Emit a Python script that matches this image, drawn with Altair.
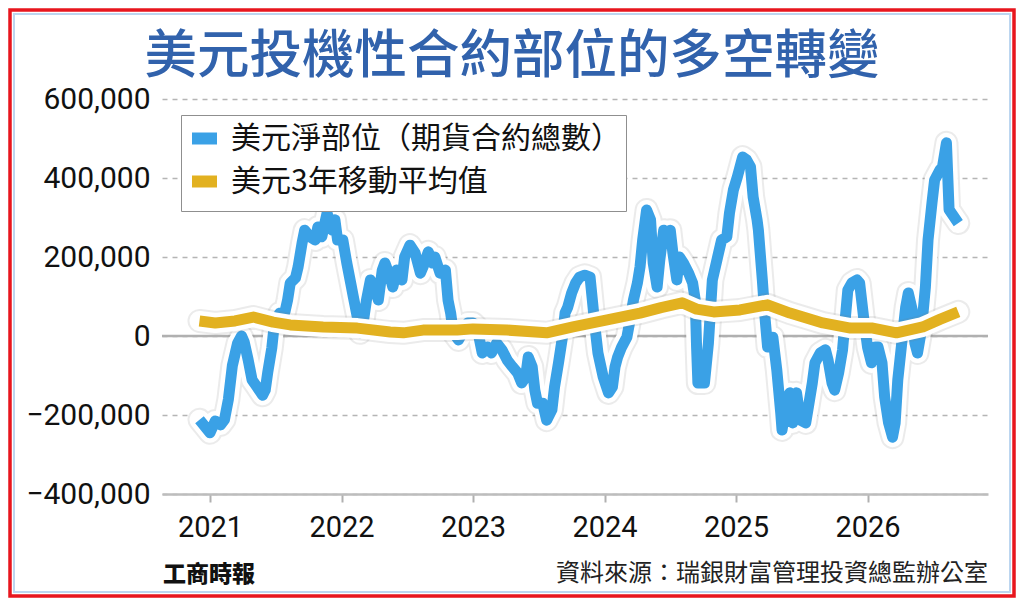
import altair as alt
import pandas as pd

# ---------------- data ----------------
TITLE = "美元投機性合約部位的多空轉變"
SERIES = ["美元淨部位（期貨合約總數）", "美元3年移動平均值"]
YEAR_TICKS = [2021, 2022, 2023, 2024, 2025, 2026]
Y_TICKS = [-400000, -200000, 0, 200000, 400000, 600000]
SOURCE = "資料來源：瑞銀財富管理投資總監辦公室"
BRAND = "工商時報"

net_year = [
    2020.92, 2021.00, 2021.04, 2021.08, 2021.11, 2021.14, 2021.17, 2021.21, 2021.24, 2021.26,
    2021.29, 2021.32, 2021.36, 2021.40, 2021.42, 2021.44, 2021.47, 2021.49, 2021.53, 2021.57,
    2021.59, 2021.61, 2021.65, 2021.67, 2021.70, 2021.72, 2021.76, 2021.80, 2021.82, 2021.85,
    2021.89, 2021.93, 2021.95, 2021.97, 2022.01, 2022.04, 2022.07, 2022.09, 2022.12, 2022.14,
    2022.16, 2022.19, 2022.22, 2022.26, 2022.28, 2022.31, 2022.33, 2022.37, 2022.39, 2022.42,
    2022.46, 2022.48, 2022.52, 2022.56, 2022.60, 2022.62, 2022.66, 2022.69, 2022.71, 2022.75,
    2022.79, 2022.81, 2022.83, 2022.85, 2022.89, 2022.92, 2022.96, 2023.00, 2023.03, 2023.07,
    2023.11, 2023.14, 2023.18, 2023.22, 2023.26, 2023.30, 2023.34, 2023.37, 2023.40, 2023.42,
    2023.45, 2023.47, 2023.49, 2023.53, 2023.56, 2023.60, 2023.62, 2023.65, 2023.68, 2023.70,
    2023.72, 2023.75, 2023.78, 2023.81, 2023.85, 2023.89, 2023.905, 2023.93, 2023.95, 2023.99,
    2024.03, 2024.06, 2024.08, 2024.10, 2024.13, 2024.17, 2024.19, 2024.22, 2024.25, 2024.27,
    2024.29, 2024.32, 2024.35, 2024.37, 2024.40, 2024.42, 2024.45, 2024.48, 2024.50, 2024.52,
    2024.55, 2024.57, 2024.60, 2024.64, 2024.67, 2024.69, 2024.70, 2024.71, 2024.76, 2024.79,
    2024.82, 2024.86, 2024.89, 2024.93, 2024.95, 2024.98, 2025.01, 2025.05, 2025.08, 2025.11,
    2025.13, 2025.16, 2025.17, 2025.20, 2025.22, 2025.24, 2025.28, 2025.31, 2025.34, 2025.35,
    2025.39, 2025.41, 2025.43, 2025.46, 2025.49, 2025.53, 2025.55, 2025.58, 2025.60, 2025.64,
    2025.68, 2025.70, 2025.73, 2025.75, 2025.78, 2025.81, 2025.83, 2025.85, 2025.88, 2025.92,
    2025.94, 2025.97, 2026.00, 2026.03, 2026.06, 2026.08, 2026.11, 2026.13, 2026.16, 2026.19,
    2026.21, 2026.23, 2026.26, 2026.29, 2026.31, 2026.34, 2026.36, 2026.38, 2026.41, 2026.44,
    2026.46, 2026.49, 2026.51, 2026.55, 2026.57, 2026.60, 2026.62, 2026.69,
]
net_value = [
    -212000, -245000, -215000, -225000, -212000, -160000, -75000, -18000, 0, -15000,
    -60000, -111000, -130000, -150000, -137000, -90000, -30000, 33000, 58000, 61000,
    91000, 134000, 147000, 175000, 235000, 268000, 251000, 243000, 276000, 251000,
    311000, 268000, 294000, 243000, 243000, 185000, 134000, 99000, 48000, 8000,
    23000, 91000, 142000, 116000, 91000, 167000, 185000, 149000, 124000, 167000,
    142000, 200000, 230000, 210000, 159000, 175000, 213000, 185000, 200000, 159000,
    167000, 91000, 58000, 8000, -10000, 8000, 33000, 33000, 23000, -43000,
    -28000, -43000, -18000, -35000, -61000, -78000, -94000, -119000, -104000, -53000,
    -78000, -137000, -170000, -170000, -213000, -187000, -129000, -68000, -3000, 58000,
    73000, 109000, 134000, 149000, 154000, 149000, 99000, 15000, -43000, -104000,
    -144000, -129000, -78000, -53000, -28000, -3000, 33000, 91000, 134000, 175000,
    243000, 319000, 294000, 185000, 124000, 192000, 268000, 261000, 268000, 210000,
    142000, 200000, 185000, 159000, 134000, 91000, -28000, -119000, -119000, -18000,
    142000, 200000, 243000, 251000, 311000, 370000, 403000, 453000, 446000, 428000,
    352000, 294000, 268000, 142000, 48000, -28000, -3000, -86000, -195000, -238000,
    -154000, -144000, -220000, -144000, -213000, -220000, -180000, -119000, -68000, -43000,
    -35000, -61000, -119000, -137000, -94000, -35000, 41000, 116000, 134000, 142000,
    134000, 48000, -28000, -68000, -28000, -28000, -68000, -154000, -220000, -256000,
    -220000, -111000, -18000, 73000, 109000, 66000, -18000, -43000, 15000, 124000,
    243000, 337000, 395000, 420000, 428000, 489000, 320000, 286000,
]

avg_year = [
    2020.92, 2021.04, 2021.19, 2021.33, 2021.48, 2021.61, 2021.86, 2022.12, 2022.37, 2022.47,
    2022.62, 2022.88, 2023.00, 2023.26, 2023.56, 2023.76, 2024.02, 2024.27, 2024.43, 2024.59,
    2024.70, 2024.83, 2025.03, 2025.24, 2025.41, 2025.66, 2025.87, 2026.04, 2026.22, 2026.42,
    2026.55, 2026.69,
]
avg_value = [
    38000, 33000, 38000, 48000, 35000, 28000, 23000, 20000, 10000, 8000,
    15000, 15000, 18000, 15000, 8000, 23000, 41000, 58000, 72000, 84000,
    68000, 61000, 66000, 79000, 58000, 33000, 20000, 20000, 8000, 23000,
    42000, 61000,
]

# ---------------- styling ----------------
BLUE = "#3aa1e6"
GOLD = "#e2b120"
CJK = "Noto Sans CJK TC"
NUM = "Roboto"

net = pd.DataFrame({"year": net_year, "value": net_value, "series": SERIES[0]})
avg = pd.DataFrame({"year": avg_year, "value": avg_value, "series": SERIES[1]})

x_enc = alt.X(
    "year:Q",
    scale=alt.Scale(domain=[2020.635, 2026.916], nice=False, zero=False),
    axis=alt.Axis(
        values=YEAR_TICKS, format="d", title=None, grid=False,
        domain=True, domainColor="#bdbdbd", domainWidth=2.5,
        ticks=True, tickColor="#b0b0b0", tickWidth=2, tickSize=8,
        labelFont=NUM, labelFontSize=29, labelColor="#111", labelPadding=11,
        labelOverlap=False, labelFlush=False,
    ),
)
y_enc = alt.Y(
    "value:Q",
    scale=alt.Scale(domain=[-400000, 600000], nice=False, zero=False),
    axis=alt.Axis(
        values=Y_TICKS, format=",d", title=None, grid=True,
        gridDash=[5, 5], gridColor="#b5b5b5", gridWidth=1.5,
        domain=False, ticks=False,
        labelFont=NUM, labelFontSize=30, labelColor="#111", labelPadding=12,
    ),
)

color_enc = alt.Color(
    "series:N",
    scale=alt.Scale(domain=SERIES, range=[BLUE, GOLD]),
    legend=alt.Legend(
        title=None, orient="none", legendX=19, legendY=16,
        direction="vertical",
        labelFont=CJK, labelFontSize=30, labelColor="#111", labelLimit=600,
        labelOffset=8, symbolType="stroke", symbolSize=625,
        symbolStrokeWidth=12, rowPadding=-6, padding=5,
        strokeColor="#8f8f8f", fillColor="white",
    ),
)


def line_layers(df, width):
    base = alt.Chart(df)
    shadow = base.mark_line(
        stroke="#777777", strokeWidth=width + 13, opacity=0.15,
        strokeCap="round", strokeJoin="round",
    ).encode(x=x_enc, y=y_enc)
    halo = base.mark_line(
        stroke="white", strokeWidth=width + 9,
        strokeCap="round", strokeJoin="round",
    ).encode(x=x_enc, y=y_enc)
    main = base.mark_line(
        strokeWidth=width, strokeCap="butt", strokeJoin="round",
    ).encode(x=x_enc, y=y_enc, color=color_enc)
    return [shadow, halo, main]


zero_rule = alt.Chart(pd.DataFrame({"value": [0]})).mark_rule(
    color="#b0b0b0", strokeWidth=2.5
).encode(y=alt.Y("value:Q"))

title = alt.Chart(pd.DataFrame({"t": [TITLE]})).mark_text(
    font=CJK, fontSize=52.5, fontWeight=500, color="#3162ac",
    align="center", baseline="middle",
).encode(x=alt.value(350), y=alt.value(-42), text="t:N")

brand = alt.Chart(pd.DataFrame({"t": [BRAND]})).mark_text(
    font=CJK, fontSize=23, fontWeight=900, color="#111",
    align="left", baseline="middle",
).encode(x=alt.value(1), y=alt.value(476), text="t:N")

source = alt.Chart(pd.DataFrame({"t": [SOURCE]})).mark_text(
    font=CJK, fontSize=24, color="#222",
    align="right", baseline="middle",
).encode(x=alt.value(826), y=alt.value(475), text="t:N")

frame_red = alt.Chart(pd.DataFrame({"t": [0]})).mark_rect(
    fill="transparent", stroke="#e8161e", strokeWidth=3.5
).encode(x=alt.value(-152), x2=alt.value(852), y=alt.value(-89), y2=alt.value(497))

frame_blue = alt.Chart(pd.DataFrame({"t": [0]})).mark_rect(
    fill="transparent", stroke="#bcd6f0", strokeWidth=2
).encode(x=alt.value(-148), x2=alt.value(848), y=alt.value(-85), y2=alt.value(493))

layers = [zero_rule] + line_layers(net, 11) + line_layers(avg, 11) + [
    title, brand, source, frame_blue, frame_red
]

chart = alt.layer(*layers).properties(
    width=826, height=395,
    padding={"left": 154, "top": 91, "right": 28, "bottom": 104},
    autosize=alt.AutoSizeParams(type="none"),
    background="white",
).configure_view(stroke=None)

chart.save("out.html", embed_options={"renderer": "svg", "actions": False})
